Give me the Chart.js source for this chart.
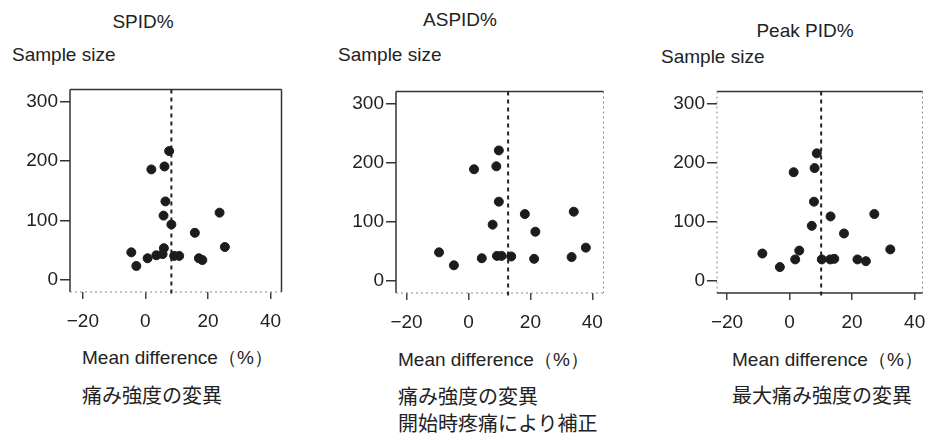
<!DOCTYPE html>
<html>
<head>
<meta charset="utf-8">
<script src="https://cdn.jsdelivr.net/npm/chart.js@4/dist/chart.umd.min.js"></script>
<style>
  body { margin: 0; background: #fff; width: 928px; height: 436px; position: relative; overflow: hidden; }
  canvas { position: absolute; }
  .t { position: absolute; white-space: nowrap; color: #222; font-family: "Liberation Sans", Arial, sans-serif; line-height: 1; font-size: 19px; }
  .ttl { width: 120px; text-align: center; }
  .jp { font-family: "Noto Sans CJK JP", sans-serif; font-size: 20px; }
</style>
</head>
<body>

<div class="t ttl" style="left:83px;top:12px">SPID%</div>
<div class="t ttl" style="left:400px;top:10px">ASPID%</div>
<div class="t ttl" style="left:745px;top:21px">Peak PID%</div>

<div class="t" style="left:12px;top:45px">Sample size</div>
<div class="t" style="left:338px;top:45px">Sample size</div>
<div class="t" style="left:661px;top:47px">Sample size</div>

<div class="t" style="left:82px;top:348px">Mean difference（%）</div>
<div class="t" style="left:398px;top:350px">Mean difference（%）</div>
<div class="t" style="left:732px;top:350px">Mean difference（%）</div>

<div class="t jp" style="left:82px;top:385px">痛み強度の変異</div>
<div class="t jp" style="left:398px;top:386px">痛み強度の変異</div>
<div class="t jp" style="left:398px;top:413px">開始時疼痛により補正</div>
<div class="t jp" style="left:732px;top:385px">最大痛み強度の変異</div>

<canvas id="c1"></canvas>
<canvas id="c2"></canvas>
<canvas id="c3"></canvas>

<script>
// mean difference (%) vs sample size, one dot per study
var spidX  = [-4.5, -2.9, 0.7, 1.9, 3.5, 5.5, 5.9, 5.8, 6.4, 6.1, 7.6, 8.3, 9.2, 10.8, 15.8, 17.1, 18.2, 23.7, 25.4];
var spidN  = [46, 23, 36, 186, 41, 43, 53, 108, 132, 191, 217, 93, 40, 40, 79, 36, 33, 113, 55];

var aspidX = [-9.5, -4.7, 1.8, 4.3, 7.8, 9.0, 9.2, 9.8, 9.8, 10.7, 13.8, 18.2, 21.2, 21.6, 33.3, 34.0, 37.9];
var aspidN = [48, 26, 189, 38, 95, 194, 42, 134, 221, 42, 41, 113, 37, 83, 40, 117, 56];

var peakX  = [-8.7, -3.1, 1.8, 1.3, 3.1, 7.1, 7.8, 8.0, 8.7, 10.3, 13.0, 14.3, 13.1, 17.4, 21.7, 24.4, 27.1, 32.2];
var peakN  = [46, 23, 36, 184, 51, 93, 134, 191, 216, 36, 36, 37, 109, 80, 36, 33, 113, 53];

// pooled mean (dashed line)
var spidMean = 8.3, aspidMean = 12.8, peakMean = 10.1;

var xTicks = [-20, 0, 20, 40];
var yTicks = [0, 100, 200, 300];

var FONT = { family: "Liberation Sans, Arial, sans-serif", size: 19 };
var YAXW = 70, XAXH = 45;

function pts(xs, ys) {
  var out = [];
  for (var i = 0; i < xs.length; i++) out.push({ x: xs[i], y: ys[i] });
  return out;
}

// box edges: solid on some sides, faint dotted on others (scan looks like that)
function edge(ctx, x1, y1, x2, y2, solid) {
  ctx.save();
  ctx.beginPath();
  if (solid) { ctx.strokeStyle = "#333"; ctx.lineWidth = 1.5; ctx.setLineDash([]); }
  else { ctx.strokeStyle = "#888"; ctx.lineWidth = 1; ctx.setLineDash([2, 3]); }
  ctx.moveTo(x1, y1); ctx.lineTo(x2, y2);
  ctx.stroke();
  ctx.restore();
}

var framePlugin = {
  id: "frame",
  beforeDatasetsDraw: function(chart, args, o) {
    var a = chart.chartArea, ctx = chart.ctx;
    edge(ctx, a.left, a.top, a.right, a.top, o.top);
    edge(ctx, a.left, a.top, a.left, a.bottom, o.left);
    edge(ctx, a.right, a.top, a.right, a.bottom, o.right);
    edge(ctx, a.left, a.bottom, a.right, a.bottom, o.bottom);

    // dashed mean line
    var x = chart.scales.x.getPixelForValue(o.mean);
    ctx.save();
    ctx.beginPath();
    ctx.strokeStyle = "#222";
    ctx.lineWidth = 2;
    ctx.setLineDash([4, 4]);
    ctx.moveTo(x, a.top);
    ctx.lineTo(x, a.bottom + 5);
    ctx.stroke();
    ctx.restore();
  }
};

function mkPanel(id, box, xs, ys, xMin, xMax, mean, sides) {
  var spare = 4;
  var cv = document.getElementById(id);
  cv.width  = YAXW + box.w + spare;
  cv.height = box.h + XAXH;
  cv.style.left = (box.l - YAXW) + "px";
  cv.style.top  = box.t + "px";

  return new Chart(cv, {
    type: "scatter",
    data: {
      datasets: [{
        data: pts(xs, ys),
        backgroundColor: "#1c1c1c",
        borderColor: "#1c1c1c",
        pointRadius: 4.5,
        pointHoverRadius: 4.5
      }]
    },
    plugins: [framePlugin],
    options: {
      responsive: false,
      animation: false,
      devicePixelRatio: 1,
      layout: { padding: { left: 0, top: 0, right: spare, bottom: 0 } },
      plugins: {
        legend: { display: false },
        tooltip: { enabled: false },
        frame: Object.assign({ mean: mean }, sides)
      },
      scales: {
        x: {
          type: "linear",
          min: xMin, max: xMax,
          border: { display: false },
          grid: { drawOnChartArea: false, drawTicks: true, tickLength: 7, color: "#444", lineWidth: 1.5 },
          ticks: {
            color: "#222", font: FONT, padding: 11, maxRotation: 0, autoSkip: false,
            callback: function(v) { return v < 0 ? "\u2212" + Math.abs(v) : "" + v; }
          },
          afterBuildTicks: function(s) { s.ticks = xTicks.map(function(v) { return { value: v }; }); },
          afterFit: function(s) { s.height = XAXH; s.paddingLeft = 0; s.paddingRight = 0; }
        },
        y: {
          type: "linear",
          min: -21, max: 321,
          border: { display: false },
          grid: { drawOnChartArea: false, drawTicks: true, tickLength: 10, color: "#333", lineWidth: 1.5 },
          ticks: { color: "#222", font: FONT, padding: 2 },
          afterBuildTicks: function(s) { s.ticks = yTicks.map(function(v) { return { value: v }; }); },
          afterFit: function(s) { s.width = YAXW; s.paddingTop = 0; s.paddingBottom = 0; }
        }
      }
    }
  });
}

mkPanel("c1", { l: 70,  t: 84, w: 213, h: 208 }, spidX,  spidN,  -24.1, 43.5, spidMean,
        { top: true, left: true, right: true,  bottom: false });
mkPanel("c2", { l: 396, t: 86, w: 209, h: 207 }, aspidX, aspidN, -23.4, 43.6, aspidMean,
        { top: true, left: true, right: false, bottom: false });
mkPanel("c3", { l: 717, t: 86, w: 207, h: 207 }, peakX,  peakN,  -23.2, 42.5, peakMean,
        { top: true, left: false, right: false, bottom: true });
</script>
</body>
</html>
